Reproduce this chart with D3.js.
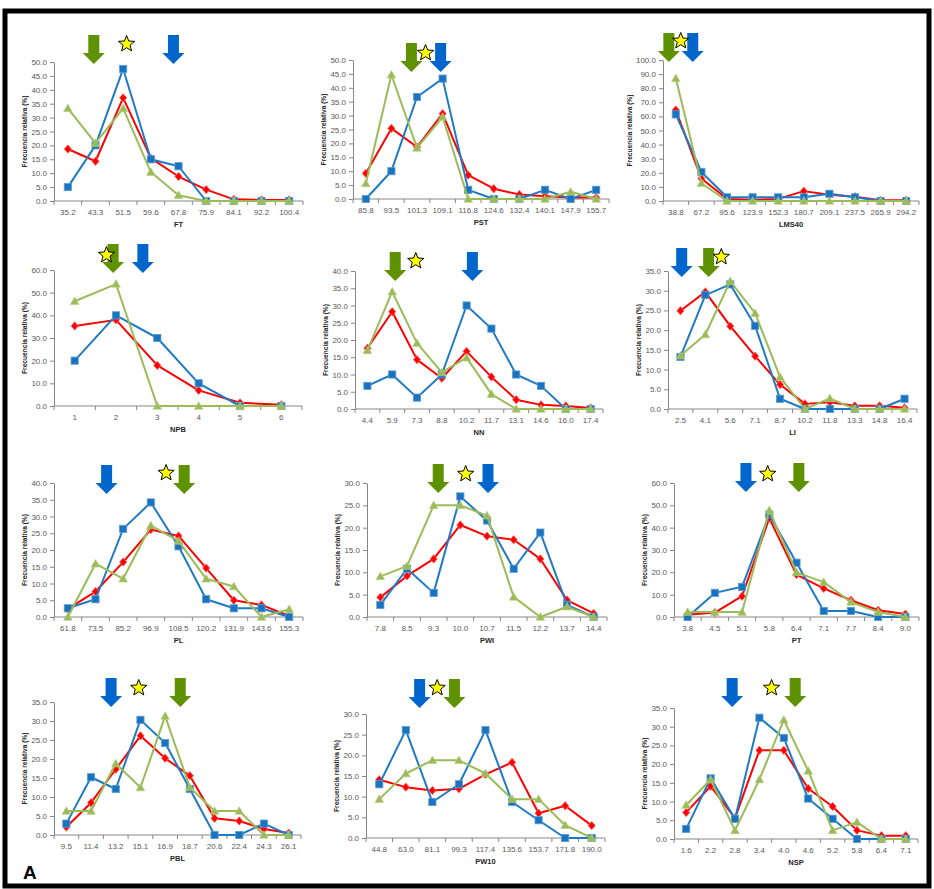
<!DOCTYPE html>
<html>
<head>
<meta charset="utf-8">
<script src="https://cdn.jsdelivr.net/npm/d3@7"></script>
<style>
  html, body { margin: 0; padding: 0; background: #fff; }
  svg { display: block; font-family: "Liberation Sans", Arial, sans-serif; }
</style>
</head>
<body>
<svg id="chart" width="934" height="889"></svg>
<script>
// ---- data: relative frequency (%) per class, three groups per variable ----
const varNames = ["FT", "PST", "LMS40", "NPB", "NN", "LI", "PL", "PWI", "PT", "PBL", "PW10", "NSP"];
const yMax  = [50, 50, 100, 60, 40, 35, 40, 30, 60, 35, 30, 35];
const yStep = [5, 5, 10, 10, 5, 5, 5, 5, 10, 5, 5, 5];

const ftBins  = ["35.2", "43.3", "51.5", "59.6", "67.8", "75.9", "84.1", "92.2", "100.4"];
const ftRed   = [18.7, 14.3, 37.1, 15.4, 8.8, 4.1, 0.6, 0.4, 0.4];
const ftBlue  = [5.0, 20.0, 47.5, 15.0, 12.5, 0, 0, 0, 0];
const ftGreen = [33.3, 20.8, 33.3, 10.4, 2.1, 0, 0, 0, 0];

const pstBins  = ["85.8", "93.5", "101.3", "109.1", "116.8", "124.6", "132.4", "140.1", "147.9", "155.7"];
const pstRed   = [9.2, 25.4, 18.7, 30.7, 8.6, 3.7, 1.6, 1.0, 0.5, 0.5];
const pstBlue  = [0, 10.0, 36.7, 43.3, 3.3, 0, 0, 3.3, 0, 3.3];
const pstGreen = [5.6, 44.7, 18.4, 29.5, 0, 0, 0, 0, 2.6, 0];

const lmsBins  = ["38.8", "67.2", "95.6", "123.9", "152.3", "180.7", "209.1", "237.5", "265.9", "294.2"];
const lmsRed   = [64.5, 15.9, 1.5, 0.8, 1.5, 7.0, 4.5, 3.0, 0.5, 0.5];
const lmsBlue  = [61.4, 20.6, 2.6, 2.6, 2.6, 2.6, 5.1, 2.6, 0, 0];
const lmsGreen = [87.0, 12.6, 0, 0, 0, 0, 0, 0, 0, 0];

const npbBins  = ["1", "2", "3", "4", "5", "6"];
const npbRed   = [35.3, 38.0, 17.9, 6.9, 1.4, 0.5];
const npbBlue  = [20.0, 40.0, 30.0, 10.0, 0, 0];
const npbGreen = [46.2, 53.8, 0, 0, 0, 0];

const nnBins  = ["4.4", "5.9", "7.3", "8.8", "10.2", "11.7", "13.1", "14.6", "16.0", "17.4"];
const nnRed   = [17.6, 28.2, 14.3, 8.9, 16.7, 9.3, 2.7, 1.2, 0.9, 0.3];
const nnBlue  = [6.7, 10.0, 3.3, 10.0, 30.0, 23.3, 10.0, 6.7, 0, 0];
const nnGreen = [17.0, 34.0, 19.1, 10.6, 14.9, 4.3, 0, 0, 0, 0];

const liBins  = ["2.5", "4.1", "5.6", "7.1", "8.7", "10.2", "11.8", "13.3", "14.8", "16.4"];
const liRed   = [24.9, 29.7, 21.0, 13.4, 6.2, 1.3, 1.7, 0.8, 0.8, 0.3];
const liBlue  = [13.2, 28.9, 31.6, 21.1, 2.6, 0, 0, 0, 0, 2.6];
const liGreen = [13.5, 18.9, 32.4, 24.3, 8.1, 0, 2.7, 0, 0, 0];

const plBins  = ["61.8", "73.5", "85.2", "96.9", "108.5", "120.2", "131.9", "143.6", "155.3"];
const plRed   = [2.4, 7.6, 16.4, 26.1, 24.2, 14.6, 5.0, 3.6, 0.3];
const plBlue  = [2.6, 5.3, 26.3, 34.2, 21.1, 5.3, 2.6, 2.6, 0];
const plGreen = [0, 15.9, 11.4, 27.3, 22.7, 11.4, 9.1, 0, 2.3];

const pwiBins  = ["7.8", "8.5", "9.3", "10.0", "10.7", "11.5", "12.2", "13.7", "14.4"];
const pwiRed   = [4.4, 9.2, 13.0, 20.6, 18.1, 17.3, 13.0, 3.8, 0.8];
const pwiBlue  = [2.7, 10.8, 5.4, 27.0, 21.6, 10.8, 18.9, 2.7, 0];
const pwiGreen = [9.1, 11.4, 25.0, 25.0, 22.7, 4.5, 0, 2.3, 0];

const ptBins  = ["3.8", "4.5", "5.1", "5.8", "6.4", "7.1", "7.7", "8.4", "9.0"];
const ptRed   = [1.0, 2.0, 9.3, 44.3, 19.0, 12.8, 7.5, 3.0, 1.3];
const ptBlue  = [0, 10.8, 13.5, 45.9, 24.3, 2.7, 2.7, 0, 0];
const ptGreen = [2.2, 2.2, 2.2, 47.8, 20.0, 15.6, 6.7, 2.2, 0];

const pblBins  = ["9.5", "11.4", "13.2", "15.1", "16.9", "18.7", "20.6", "22.4", "24.3", "26.1"];
const pblRed   = [2.1, 8.5, 17.3, 26.1, 20.2, 15.6, 4.4, 3.7, 1.6, 0.5];
const pblBlue  = [3.0, 15.2, 12.1, 30.3, 24.2, 12.1, 0, 0, 3.0, 0];
const pblGreen = [6.3, 6.3, 18.8, 12.5, 31.3, 12.5, 6.3, 6.3, 0, 0];

const pw10Bins  = ["44.8", "63.0", "81.1", "99.3", "117.4", "135.6", "153.7", "171.8", "190.0"];
const pw10Red   = [14.1, 12.3, 11.5, 11.9, 15.4, 18.3, 6.0, 7.8, 3.0];
const pw10Blue  = [13.0, 26.1, 8.7, 13.0, 26.1, 8.7, 4.3, 0, 0];
const pw10Green = [9.4, 15.6, 18.8, 18.8, 15.6, 9.4, 9.4, 3.1, 0];

const nspBins  = ["1.6", "2.2", "2.8", "3.4", "4.0", "4.6", "5.2", "5.8", "6.4", "7.1"];
const nspRed   = [7.1, 14.1, 5.6, 23.7, 23.7, 13.5, 8.7, 2.3, 0.9, 0.9];
const nspBlue  = [2.7, 16.2, 5.4, 32.4, 27.0, 10.8, 5.4, 0, 0, 0];
const nspGreen = [9.1, 15.9, 2.3, 15.9, 31.8, 18.2, 2.3, 4.5, 0, 0];

// reference values marked above each panel (in the variable's own units)
const blueArrow  = [66.3, 108.5, 57.6, 2.65, 10.55, 2.58, 78.2, 10.73, 5.2, 12.86, 72.4, 2.73];
const greenArrow = [42.8, 99.6, 31.1, 1.93, 6.07, 4.3, 110.9, 9.42, 6.46, 18.0, 96.2, 4.28];
const starMark   = [52.5, 103.9, 44.3, 1.77, 7.23, 5.06, 103.3, 10.14, 5.76, 14.97, 84.4, 3.7];

const binsList  = [ftBins, pstBins, lmsBins, npbBins, nnBins, liBins, plBins, pwiBins, ptBins, pblBins, pw10Bins, nspBins];
const redList   = [ftRed, pstRed, lmsRed, npbRed, nnRed, liRed, plRed, pwiRed, ptRed, pblRed, pw10Red, nspRed];
const blueList  = [ftBlue, pstBlue, lmsBlue, npbBlue, nnBlue, liBlue, plBlue, pwiBlue, ptBlue, pblBlue, pw10Blue, nspBlue];
const greenList = [ftGreen, pstGreen, lmsGreen, npbGreen, nnGreen, liGreen, plGreen, pwiGreen, ptGreen, pblGreen, pw10Green, nspGreen];

// ---- layout of the 12 plot areas ----
const layout = [
  { l: 54,  r: 303, t: 62,  b: 201, arrowTop: 35,  starY: 44 },
  { l: 353, r: 609, t: 60,  b: 199, arrowTop: 43,  starY: 53 },
  { l: 663, r: 919, t: 60,  b: 201, arrowTop: 33,  starY: 41 },
  { l: 54,  r: 302, t: 270, b: 406, arrowTop: 244, starY: 255 },
  { l: 355, r: 603, t: 271, b: 409, arrowTop: 252, starY: 261 },
  { l: 668, r: 917, t: 271, b: 409, arrowTop: 248, starY: 257 },
  { l: 54,  r: 303, t: 483, b: 617, arrowTop: 465, starY: 473 },
  { l: 367, r: 607, t: 483, b: 617, arrowTop: 464, starY: 474 },
  { l: 674, r: 919, t: 483, b: 617, arrowTop: 463, starY: 474 },
  { l: 54,  r: 301, t: 702, b: 835, arrowTop: 678, starY: 688 },
  { l: 366, r: 605, t: 714, b: 838, arrowTop: 679, starY: 688 },
  { l: 674, r: 918, t: 708, b: 839, arrowTop: 678, starY: 688 }
];

const colors = {
  red: "#FF0000",
  blue: "#1F7AC4",
  blueFill: "#1A73BE",
  green: "#9BBB59",
  arrowBlue: "#0066CC",
  arrowGreen: "#5F9200",
  axis: "#868686",
  tick: "#595959",
  title: "#262626"
};

const svg = d3.select("#chart");
svg.append("rect").attr("width", 934).attr("height", 889).attr("fill", "#fff");

// arrow and star shapes
const arrowPts = [[-5.5, 0], [5.5, 0], [5.5, 18], [11, 18], [0, 29], [-11, 18], [-5.5, 18]];
function starPath(R, r) {
  const pts = [];
  for (let k = 0; k < 10; k++) {
    const rad = k % 2 === 0 ? R : r;
    const a = -Math.PI / 2 + k * Math.PI / 5;
    pts.push([rad * Math.cos(a), rad * Math.sin(a)]);
  }
  return "M" + pts.map(p => p.join(",")).join("L") + "Z";
}

varNames.forEach((name, i) => {
  const L = layout[i];
  const bins = binsList[i];
  const g = svg.append("g");

  const x = d3.scaleBand().domain(bins).range([L.l, L.r]).paddingInner(0).paddingOuter(0);
  const centers = bins.map(c => x(c) + x.bandwidth() / 2);
  // continuous position for the marked reference values
  const xv = d3.scaleLinear().domain(bins.map(Number)).range(centers);
  const y = d3.scaleLinear().domain([0, yMax[i]]).range([L.b, L.t]);

  // y axis
  const yAxis = d3.axisLeft(y)
    .tickValues(d3.range(0, yMax[i] + yStep[i] / 2, yStep[i]))
    .tickFormat(d3.format(".1f"))
    .tickSize(4)
    .tickSizeOuter(0)
    .tickPadding(3);
  const ya = g.append("g").attr("transform", `translate(${L.l},0)`).call(yAxis);
  ya.select(".domain").attr("stroke", colors.axis);
  ya.selectAll(".tick line").attr("stroke", colors.axis);
  ya.selectAll(".tick text").attr("fill", colors.tick).style("font-size", "8px")
    .style("font-family", "'Liberation Sans', Arial, sans-serif");

  // x axis: labels centred in each class, ticks on class boundaries
  const xAxis = d3.axisBottom(x).tickSize(0).tickPadding(8);
  const xa = g.append("g").attr("transform", `translate(0,${L.b})`).call(xAxis);
  xa.select(".domain").remove();
  xa.selectAll(".tick text").attr("fill", colors.tick).style("font-size", "8px")
    .style("font-family", "'Liberation Sans', Arial, sans-serif");
  g.append("line").attr("x1", L.l).attr("x2", L.r).attr("y1", L.b).attr("y2", L.b)
    .attr("stroke", colors.axis);
  g.selectAll(".btick").data(d3.range(bins.length + 1)).join("line")
    .attr("x1", k => L.l + k * x.step()).attr("x2", k => L.l + k * x.step())
    .attr("y1", L.b).attr("y2", L.b + 4).attr("stroke", colors.axis);

  // axis titles (bbox of the y axis group is in its local frame)
  const bb = ya.node().getBBox();
  g.append("text")
    .attr("transform", `translate(${L.l + bb.x - 4},${(L.t + L.b) / 2}) rotate(-90)`)
    .attr("text-anchor", "middle")
    .attr("fill", colors.title)
    .style("font-size", "6.6px").style("font-weight", "bold")
    .text("Frecuencia relativa (%)");
  g.append("text")
    .attr("x", (L.l + L.r) / 2).attr("y", L.b + 26)
    .attr("text-anchor", "middle")
    .attr("fill", colors.title)
    .style("font-size", "7.5px").style("font-weight", "bold")
    .text(name);

  const line = d3.line().x((d, k) => centers[k]).y(d => y(d));

  // red series with diamonds
  const red = redList[i];
  g.append("path").datum(red).attr("d", line).attr("fill", "none")
    .attr("stroke", colors.red).attr("stroke-width", 2).attr("stroke-linejoin", "round");
  g.selectAll(".mr").data(red).join("path")
    .attr("d", "M0,-4.2L3.6,0L0,4.2L-3.6,0Z")
    .attr("transform", (d, k) => `translate(${centers[k]},${y(d)})`)
    .attr("fill", colors.red).attr("stroke", "#FF6A6A").attr("stroke-width", 0.8);

  // blue series with squares
  const blue = blueList[i];
  g.append("path").datum(blue).attr("d", line).attr("fill", "none")
    .attr("stroke", colors.blue).attr("stroke-width", 2).attr("stroke-linejoin", "round");
  g.selectAll(".mb").data(blue).join("rect")
    .attr("x", (d, k) => centers[k] - 3.6).attr("y", d => y(d) - 3.6)
    .attr("width", 7.2).attr("height", 7.2)
    .attr("fill", colors.blueFill).attr("stroke", "#5B9BD5").attr("stroke-width", 0.8);

  // green series with triangles
  const green = greenList[i];
  g.append("path").datum(green).attr("d", line).attr("fill", "none")
    .attr("stroke", colors.green).attr("stroke-width", 2).attr("stroke-linejoin", "round");
  g.selectAll(".mg").data(green).join("path")
    .attr("d", "M0,-4.3L4.3,3.3L-4.3,3.3Z")
    .attr("transform", (d, k) => `translate(${centers[k]},${y(d)})`)
    .attr("fill", colors.green).attr("stroke", "#B5CF7E").attr("stroke-width", 0.6);

  // reference arrows and star
  const arrow = (v, col) => g.append("polygon")
    .attr("points", arrowPts.map(p => [xv(v) + p[0], L.arrowTop + p[1]].join(",")).join(" "))
    .attr("fill", col);
  arrow(greenArrow[i], colors.arrowGreen);
  arrow(blueArrow[i], colors.arrowBlue);
  g.append("path").attr("d", starPath(8.5, 3.7))
    .attr("transform", `translate(${xv(starMark[i])},${L.starY})`)
    .attr("fill", "#FFFF00").attr("stroke", "#000").attr("stroke-width", 1);
});

// panel letter and outer frame
svg.append("text").attr("x", 23).attr("y", 879)
  .style("font-size", "19px").style("font-weight", "bold").attr("fill", "#000").text("A");
svg.append("rect").attr("x", 5).attr("y", 11).attr("width", 924).attr("height", 875)
  .attr("fill", "none").attr("stroke", "#000").attr("stroke-width", 5);
</script>
</body>
</html>
